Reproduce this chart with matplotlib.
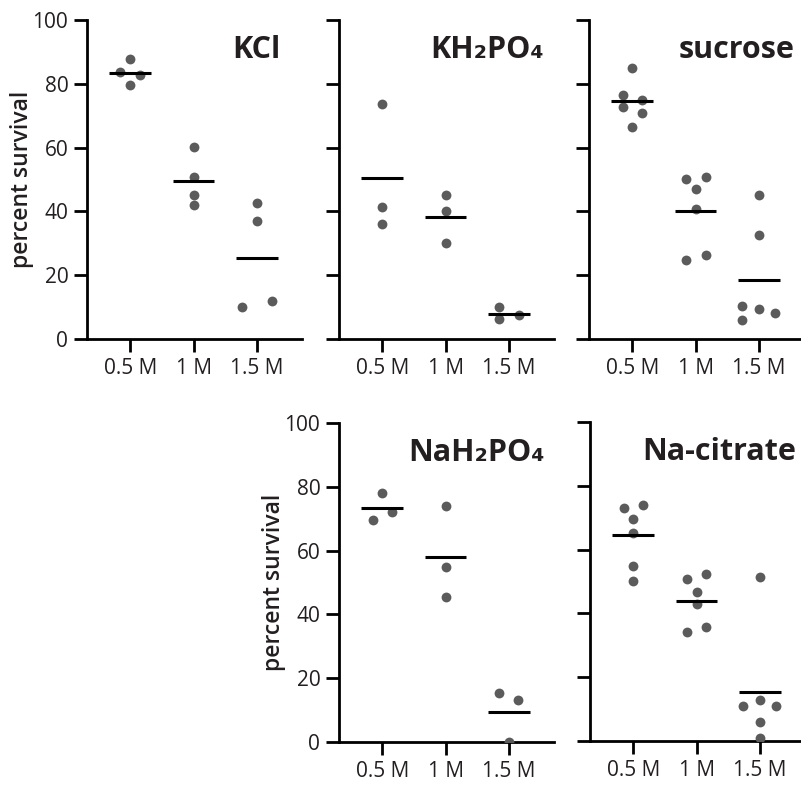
import matplotlib
matplotlib.use("Agg")
import matplotlib.pyplot as plt
import numpy as np

# ---- data ----
concentrations = ["0.5 M", "1 M", "1.5 M"]
yticks = [0, 20, 40, 60, 80, 100]
titles = ["KCl", "KH\u2082PO\u2084", "sucrose", "NaH\u2082PO\u2084", "Na-citrate"]

kcl_05 = [87.7, 83.8, 82.8, 79.6]
kcl_1 = [60.1, 50.7, 45.1, 42.0]
kcl_15 = [42.7, 37.0, 10.1, 12.0]

kh2po4_05 = [73.6, 41.3, 36.1]
kh2po4_1 = [45.1, 40.0, 30.0]
kh2po4_15 = [9.9, 6.3, 7.6]

sucrose_05 = [85.1, 76.5, 75.0, 72.8, 71.0, 66.6]
sucrose_1 = [50.3, 50.9, 46.9, 40.9, 24.7, 26.2]
sucrose_15 = [45.0, 32.6, 10.3, 9.5, 8.0, 5.8]

nah2po4_05 = [78.0, 69.6, 72.0]
nah2po4_1 = [74.0, 54.8, 45.3]
nah2po4_15 = [15.4, 13.1, 0.0]

nacitrate_05 = [73.0, 73.9, 69.7, 65.1, 54.9, 50.2]
nacitrate_1 = [50.8, 52.4, 46.8, 42.9, 34.2, 35.8]
nacitrate_15 = [51.5, 10.9, 12.8, 10.9, 5.8, 0.9]

# horizontal scatter offsets of the dots (layout only)
kcl_dx = [[0, -0.16, 0.16, 0], [0, 0, 0, 0], [0, 0, -0.23, 0.23]]
kh2po4_dx = [[0, 0, 0], [0, 0, 0], [-0.15, -0.15, 0.16]]
sucrose_dx = [[0, -0.15, 0.16, -0.15, 0.16, 0],
              [-0.15, 0.16, 0, 0, -0.15, 0.16],
              [0, 0, -0.26, 0, 0.26, -0.26]]
nah2po4_dx = [[0, -0.15, 0.16], [0, 0, 0], [-0.15, 0.15, 0]]
nacitrate_dx = [[-0.15, 0.15, 0, 0, 0, 0],
                [-0.15, 0.15, 0, 0, -0.15, 0.15],
                [0, -0.26, 0, 0.26, 0, 0]]

panels = [
    ([kcl_05, kcl_1, kcl_15], kcl_dx),
    ([kh2po4_05, kh2po4_1, kh2po4_15], kh2po4_dx),
    ([sucrose_05, sucrose_1, sucrose_15], sucrose_dx),
    ([nah2po4_05, nah2po4_1, nah2po4_15], nah2po4_dx),
    ([nacitrate_05, nacitrate_1, nacitrate_15], nacitrate_dx),
]

plt.rcParams['font.family'] = ['Open Sans', 'DejaVu Sans']
TXT = "#231f20"
DOT = "#5b5b5b"

W, H = 801, 785
fig = plt.figure(figsize=(W / 100, H / 100), dpi=100)

axw, axh = 215, 319
rects = [(87, 20), (339, 20), (589, 20), (339, 423), (590, 422)]
title_x = [0.90, 0.955, 0.955, 0.958, 0.958]
show_labels = [True, False, False, True, False]

for i, ((groups, dxs), (px, py)) in enumerate(zip(panels, rects)):
    ax = fig.add_axes([px / W, 1 - (py + axh) / H, axw / W, axh / H])
    xs = np.arange(1, len(concentrations) + 1)
    for x, vals, dx in zip(xs, groups, dxs):
        ax.scatter(x + np.array(dx), vals, s=50, color=DOT, zorder=3,
                   linewidths=0, clip_on=True)
        m = np.mean(vals)
        ax.plot([x - 0.33, x + 0.33], [m, m], color="black", lw=2.2,
                solid_capstyle="butt", zorder=4)
    ax.set_xlim(0.32, 3.71)
    ax.set_ylim(0, 100)
    ax.set_xticks(xs)
    ax.set_xticklabels(concentrations, fontsize=15, color=TXT)
    ax.set_yticks(yticks)
    if show_labels[i]:
        ax.set_yticklabels([str(t) for t in yticks], fontsize=15, color=TXT)
        ax.set_ylabel("percent survival", fontsize=16.5, fontweight="semibold",
                      color=TXT)
        ax.yaxis.set_label_coords(-0.245, 0.5)
    else:
        ax.set_yticklabels([])
    for s in ["top", "right"]:
        ax.spines[s].set_visible(False)
    for s in ["left", "bottom"]:
        ax.spines[s].set_linewidth(2.0)
    ax.tick_params(axis="both", length=9.5, width=2.0, pad=4)
    ax.text(title_x[i], 0.88, titles[i], transform=ax.transAxes,
            ha="right", va="baseline", fontsize=22, fontweight="bold",
            color=TXT)

fig.savefig("out.png", dpi=100)
